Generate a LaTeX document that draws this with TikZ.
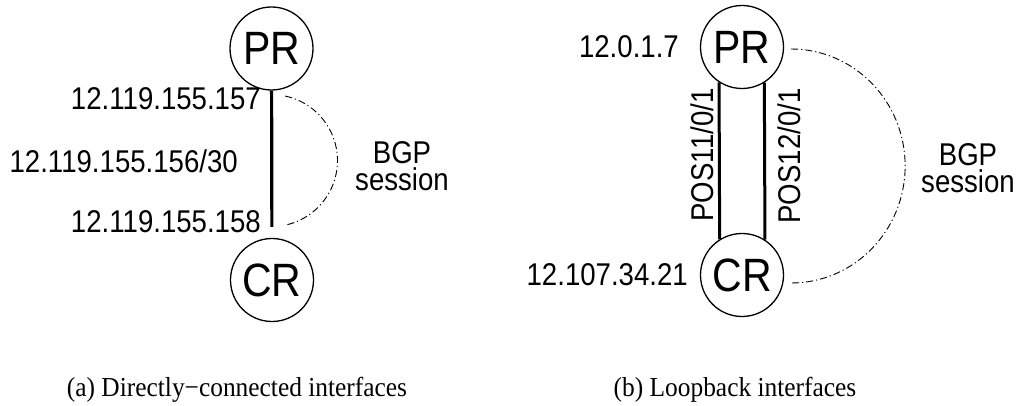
\documentclass[tikz,border=0pt]{standalone}
\usepackage{fontspec}
\usetikzlibrary{calc}
\setmainfont{Liberation Serif}
\newfontfamily\labfont{Liberation Sans}
\newcommand{\tallA}[1]{\scalebox{1}[1.14]{#1}}
\newcommand{\tallB}[1]{\scalebox{1}[1.08]{#1}}
\begin{document}
\begin{tikzpicture}[x=1pt,y=1pt,
  router/.style={circle,draw,line width=1.3pt,minimum size=83pt,inner sep=0pt,font=\labfont\fontsize{41}{41}\selectfont},
  lab/.style={font=\labfont\fontsize{27.6}{25}\selectfont,inner sep=0pt},
  link/.style={line width=3.2pt},
  bgp/.style={line width=0.9pt,dash pattern=on 7pt off 3pt on 1.2pt off 3pt},
  captext/.style={font=\fontsize{25.4}{25}\selectfont,inner sep=0pt,anchor=base}]
\useasboundingbox (0,0) rectangle (1018,405);
% (a)
\node[router] (PRa) at (271.5,356.5) {\tallA{PR}};
\node[router] (CRa) at (272,125) {\tallA{CR}};
\draw[link,shorten >=11pt] (PRa) -- (CRa);
\node[lab,anchor=base east] (a1) at (261,295) {\tallA{12.119.155.157}};
\node[lab,anchor=base east] (a2) at (238,233) {\tallA{12.119.155.156/30}};
\node[lab,anchor=base east] (a3) at (261,173) {\tallA{12.119.155.158}};
\node[lab,align=center] (bgpa) at (402,239) {\tallA{BGP}\\[1.5pt]\tallA{session}};
\coordinate (sa) at ($(PRa.south)+(13.7,-5.4)$);
\draw[bgp] (sa) arc[start angle=78,end angle=-78,radius=66];
% (b)
\node[router] (PRb) at (742,358) {\tallA{PR}};
\node[router] (CRb) at (742,130) {\tallA{CR}};
\draw[link,line width=3pt] (PRb.237.6) -- (CRb.122.4);
\draw[link,line width=3pt] (PRb.302.4) -- (CRb.57.6);
\node[lab,anchor=base east] (b1) at (679,347) {\tallA{12.0.1.7}};
\node[lab,anchor=base east] (b2) at (688,120) {\tallA{12.107.34.21}};
\node[lab,anchor=base,rotate=90] (p1) at (713,250) {\tallA{POS11/0/1}};
\node[lab,anchor=base,rotate=90] (p2) at (800,249) {\tallA{POS12/0/1}};
\node[lab,align=center] (bgpb) at (968,237) {\tallA{BGP}\\[1.5pt]\tallA{session}};
\coordinate (sb) at ($(PRb.east)+(7,-2)$);
\draw[bgp] (sb) arc[start angle=90,end angle=-90,x radius=114,y radius=117];
% captions
\node[captext] (capa) at (237,9) {\tallB{(a) Directly−connected interfaces}};
\node[captext] (capb) at (735,9) {\tallB{(b) Loopback interfaces}};
\end{tikzpicture}
\end{document}
